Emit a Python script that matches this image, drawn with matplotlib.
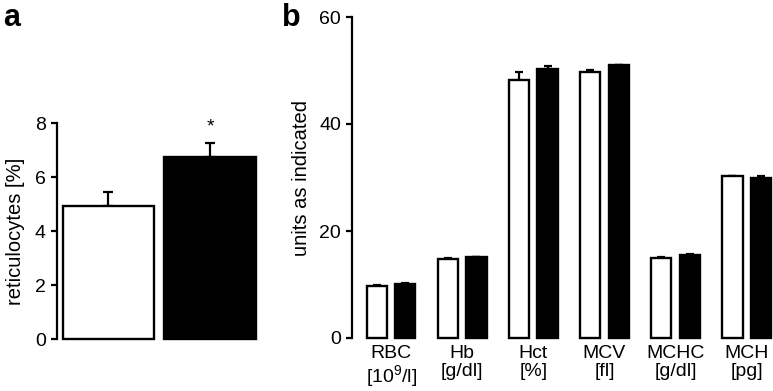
import numpy as np
import matplotlib
matplotlib.use("Agg")
import matplotlib.pyplot as plt

plt.rcParams['font.family'] = ['Liberation Sans', 'DejaVu Sans']
plt.rcParams['mathtext.fontset'] = 'custom'
plt.rcParams['mathtext.rm'] = 'Liberation Sans'

# panel a: reticulocytes
retic_mean = [4.93, 6.74]
retic_err = [0.5, 0.52]

# panel b: blood parameters
params = ["RBC\n[10$^{\\mathrm{9}}$/l]", "Hb\n[g/dl]", "Hct\n[%]", "MCV\n[fl]",
          "MCHC\n[g/dl]", "MCH\n[pg]"]
ctrl_mean = [9.7, 14.8, 48.2, 49.7, 15.0, 30.2]
ctrl_err = [0.3, 0.1, 1.5, 0.4, 0.1, 0.1]
treat_mean = [10.1, 15.1, 50.3, 51.0, 15.5, 29.9]
treat_err = [0.1, 0.1, 0.5, 0.1, 0.2, 0.3]

W, H = 773, 391
fig = plt.figure(figsize=(W/100, H/100), dpi=100)

def style(ax):
    for s in ['top', 'right', 'bottom']:
        ax.spines[s].set_visible(False)
    ax.spines['left'].set_linewidth(1.6)
    ax.tick_params(axis='y', direction='out', length=4, width=1.6, labelsize=14, pad=4)
    ax.tick_params(axis='x', length=0, labelsize=14, pad=5)

# ---- a ----
ax1 = fig.add_axes([57/W, (H-339)/H, 201/W, 216/H])
ax1.bar([0, 1], retic_mean, width=0.9, color=['white', 'black'],
        edgecolor='black', linewidth=1.7, clip_on=False, zorder=2)
for i in range(2):
    ax1.errorbar(i, retic_mean[i], yerr=[[0], [retic_err[i]]], fmt='none',
                 ecolor='black', elinewidth=1.6, capsize=3.5, capthick=1.6, zorder=1)
ax1.text(1, 7.85, "*", ha='center', va='center', fontsize=14)
ax1.set_xlim(-0.507, 1.473)
ax1.set_ylim(0, 8)
ax1.set_yticks([0, 2, 4, 6, 8])
ax1.set_xticks([])
ax1.set_ylabel("reticulocytes [%]", fontsize=14.5, labelpad=7)
style(ax1)

# ---- b ----
ax2 = fig.add_axes([352/W, (H-338)/H, 421/W, 321/H])
x = np.arange(len(params))
off = 0.2
bw = 0.285
ax2.bar(x - off, ctrl_mean, width=bw, color='white', edgecolor='black',
        linewidth=1.7, clip_on=False, zorder=2)
ax2.bar(x + off, treat_mean, width=bw, color='black', edgecolor='black',
        linewidth=1.7, clip_on=False, zorder=2)
ax2.errorbar(x - off, ctrl_mean, yerr=[np.zeros(len(x)), ctrl_err], fmt='none',
             ecolor='black', elinewidth=1.6, capsize=3, capthick=1.6, zorder=1)
ax2.errorbar(x + off, treat_mean, yerr=[np.zeros(len(x)), treat_err], fmt='none',
             ecolor='black', elinewidth=1.6, capsize=3, capthick=1.6, zorder=1)
ax2.set_xlim(-0.55, 5.37)
ax2.set_ylim(0, 60)
ax2.set_yticks([0, 20, 40, 60])
ax2.set_xticks(x)
ax2.set_xticklabels(params, linespacing=1.05)
ax2.set_ylabel("units as indicated", fontsize=14.5, labelpad=6)
style(ax2)

fig.text(3/W, 1 - 26/H, "a", fontsize=22, fontweight='bold', ha='left', va='baseline')
fig.text(282/W, 1 - 26/H, "b", fontsize=22, fontweight='bold', ha='left', va='baseline')

fig.savefig("out.png", dpi=100)
